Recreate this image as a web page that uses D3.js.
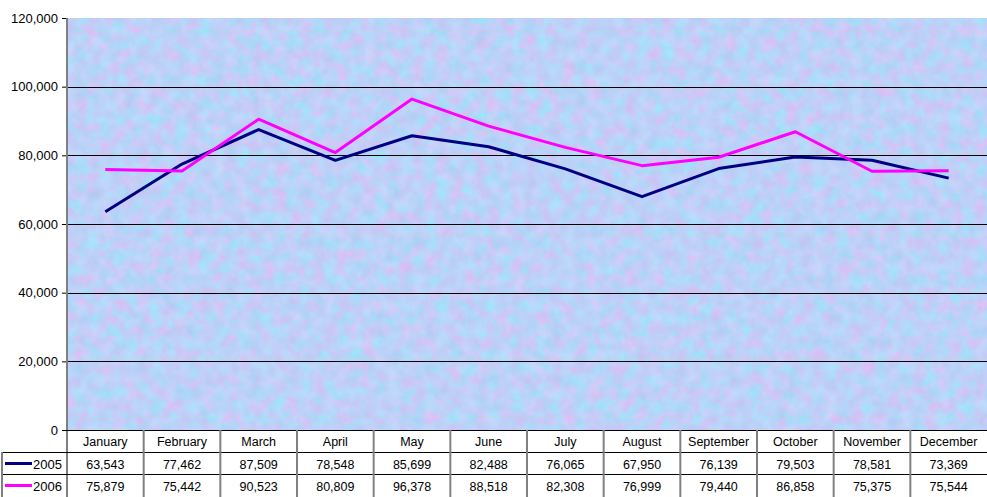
<!DOCTYPE html>
<html>
<head>
<meta charset="utf-8">
<script src="https://cdn.jsdelivr.net/npm/d3@7"></script>
<style>
  body { margin: 0; background: #fff; }
  svg { display: block; font-family: "Liberation Sans", Arial, sans-serif; }
</style>
</head>
<body>
<div id="chart"></div>
<script>
const months = ["January", "February", "March", "April", "May", "June", "July", "August", "September", "October", "November", "December"]
const values2005 = [63543, 77462, 87509, 78548, 85699, 82488, 76065, 67950, 76139, 79503, 78581, 73369]
const values2006 = [75879, 75442, 90523, 80809, 96378, 88518, 82308, 76999, 79440, 86858, 75375, 75544]
const yTicks = [0, 20000, 40000, 60000, 80000, 100000, 120000]

const series = [
  {name: "2005", values: values2005, color: "#000080"},
  {name: "2006", values: values2006, color: "#ff00ff"}
]

let width = 987
let height = 497
let plot = {left: 67, right: 987, top: 18, bottom: 430}
let rowH = 22

let svg = d3.select("#chart").append("svg")
  .attr("width", width)
  .attr("height", height)

let x = d3.scaleBand().domain(months).range([plot.left, plot.right])
let y = d3.scaleLinear().domain([0, 120000]).range([plot.bottom, plot.top])
let fmt = d3.format(",")

// background texture (approximation of the excel "bouquet" fill)
let defs = svg.append("defs")
let filt = defs.append("filter").attr("id", "tex")
  .attr("x", 0).attr("y", 0).attr("width", 1).attr("height", 1)
  .attr("color-interpolation-filters", "sRGB")
filt.append("feTurbulence")
  .attr("type", "fractalNoise")
  .attr("baseFrequency", 0.08)
  .attr("numOctaves", 3)
  .attr("seed", 7)
filt.append("feColorMatrix")
  .attr("type", "matrix")
  .attr("values", "0.3 -0.12 0 0 0.65  -0.1 0.16 0 0 0.79  0 0.05 0 0 0.945  0 0 0 0 1")

svg.append("rect")
  .attr("x", plot.left).attr("y", plot.top)
  .attr("width", plot.right - plot.left).attr("height", plot.bottom - plot.top)
  .attr("filter", "url(#tex)")

// gridlines
svg.append("g").selectAll("line")
  .data(yTicks.filter(d => d > 0 && d < 120000))
  .join("line")
  .attr("x1", plot.left).attr("x2", plot.right)
  .attr("y1", d => Math.round(y(d)) + 0.5).attr("y2", d => Math.round(y(d)) + 0.5)
  .attr("stroke", "#000").attr("stroke-width", 1)

// y axis
let yAxis = svg.append("g")
  .attr("transform", `translate(${plot.left},0)`)
  .call(d3.axisLeft(y).tickValues(yTicks).tickFormat(fmt).tickSize(5).tickPadding(4))
yAxis.select(".domain").remove()
yAxis.selectAll(".tick line").attr("stroke", "#000")
yAxis.selectAll(".tick text")
  .attr("font-size", 13).attr("fill", "#000")
  .attr("font-family", "Liberation Sans, Arial, sans-serif")
svg.append("line")
  .attr("x1", plot.left).attr("x2", plot.left)
  .attr("y1", plot.top).attr("y2", height)
  .attr("stroke", "#808080").attr("stroke-width", 2)

// lines
let line = d3.line()
  .x((d, i) => x(months[i]) + x.bandwidth() / 2)
  .y(d => y(d))

svg.append("g").selectAll("path")
  .data(series)
  .join("path")
  .attr("d", d => line(d.values))
  .attr("fill", "none")
  .attr("stroke", d => d.color)
  .attr("stroke-width", 3)
  .attr("stroke-linejoin", "round")

// data table
let table = svg.append("g")

// horizontal rules
let rows = [plot.bottom, plot.bottom + rowH, plot.bottom + rowH * 2]
table.selectAll("line.h")
  .data(rows)
  .join("line")
  .attr("class", "h")
  .attr("x1", (d, i) => i == 0 ? plot.left - 5 : 2)
  .attr("x2", plot.right)
  .attr("y1", d => d + 0.5).attr("y2", d => d + 0.5)
  .attr("stroke", "#000")

// vertical rules
table.selectAll("line.v")
  .data(months.slice(1))
  .join("line")
  .attr("class", "v")
  .attr("x1", d => x(d)).attr("x2", d => x(d))
  .attr("y1", plot.bottom).attr("y2", height)
  .attr("stroke", "#808080").attr("stroke-width", 2)
table.append("line")
  .attr("x1", 2).attr("x2", 2)
  .attr("y1", plot.bottom + rowH).attr("y2", height)
  .attr("stroke", "#808080").attr("stroke-width", 2)

// month header
table.selectAll("text.month")
  .data(months)
  .join("text")
  .attr("class", "month")
  .attr("x", d => x(d) + x.bandwidth() / 2)
  .attr("y", plot.bottom + rowH / 2 + 4.5)
  .attr("text-anchor", "middle")
  .attr("font-size", 12.5)
  .text(d => d)

// series rows
series.forEach(function(s, si) {
  let cy = plot.bottom + rowH * (si + 1) + rowH / 2 + 1
  table.append("line")
    .attr("x1", 5).attr("x2", 32)
    .attr("y1", cy - 0.5).attr("y2", cy - 0.5)
    .attr("stroke", s.color).attr("stroke-width", 3)
  table.append("text")
    .attr("x", 33).attr("y", cy + 4.5)
    .attr("font-size", 13)
    .text(s.name)
  table.selectAll("text.v" + si)
    .data(s.values)
    .join("text")
    .attr("class", "v" + si)
    .attr("x", (d, i) => x(months[i]) + x.bandwidth() / 2)
    .attr("y", cy + 4.5)
    .attr("text-anchor", "middle")
    .attr("font-size", 12.5)
    .text(d => fmt(d))
})
</script>
</body>
</html>
